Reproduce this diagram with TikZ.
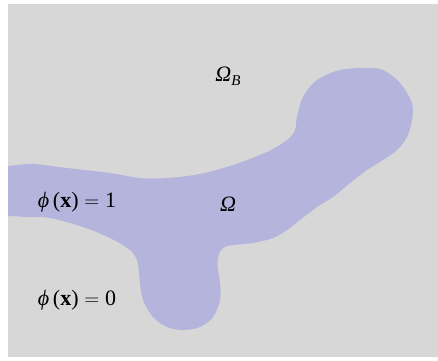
\documentclass[tikz,border=0pt]{standalone}
\usepackage{fontspec}
\setmainfont{Liberation Serif}
\definecolor{bggray}{RGB}{215,215,215}
\definecolor{blob}{RGB}{180,180,220}
\begin{document}
\begin{tikzpicture}[x=1pt,y=-1pt,
  lbl/.style={inner sep=0pt,font=\fontsize{22}{26}\selectfont}]
\useasboundingbox (0,0) rectangle (438,360);
\fill[bggray] (8,4) rectangle (438,357);
\begin{scope}
\clip (8,4) rectangle (438,357);
\fill[blob] plot[smooth cycle,tension=0.55] coordinates {
 (-6,166) (8,166) (33,164) (67,168) (110,173) (140,178) (167,178) (200,174)
 (233,165) (267,152) (287,140) (295,130) (297,117) (303,97) (317,80) (340,70)
 (367,68) (383,70) (400,83) (412,103) (412,120) (407,137) (397,150) (383,160)
 (367,170) (350,183) (333,197) (317,207) (300,220) (287,230) (273,238) (253,243)
 (233,245) (223,248) (218,257) (218,270) (220,283) (220,300) (213,317) (200,327)
 (183,330) (167,327) (153,317) (143,300) (140,283) (139,273) (137,260) (130,250)
 (110,238) (83,227) (50,218) (27,217) (8,216) (-6,216)};
\end{scope}
\node[lbl] (omegab) at (228,76) {\textit{Ω}\raisebox{-4pt}{\fontsize{15}{18}\selectfont\textit{B}}};
\node[lbl] (omega) at (228,204) {\textit{Ω}};
\node[lbl] (phione) at (77,202) {\textit{ϕ}\,(\textbf{x})${}={}$1};
\node[lbl] (phizero) at (77,300) {\textit{ϕ}\,(\textbf{x})${}={}$0};
\end{tikzpicture}
\end{document}
